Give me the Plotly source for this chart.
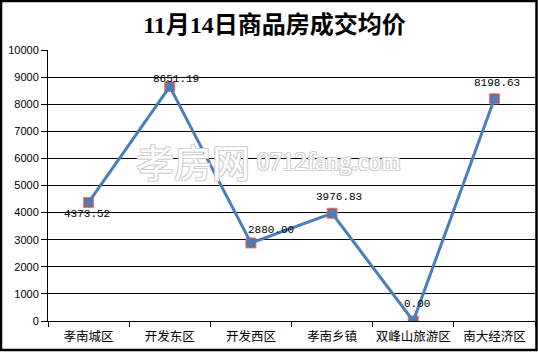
import plotly.graph_objects as go

categories = ["孝南城区", "开发东区", "开发西区", "孝南乡镇", "双峰山旅游区", "南大经济区"]
prices = [4373.52, 8651.19, 2880.00, 3976.83, 0.00, 8198.63]
label_texts = ["4373.52", "8651.19", "2880.00", "3976.83", "0.00", "8198.63"]
y_ticks = list(range(0, 10001, 1000))
y_tick_text = [str(v) for v in y_ticks]

# label offsets (style only, in pixels: dx, dy up)
label_dx = [-2, 6, 20, 7, 4, 3]
label_dy = [-12, 8, 13, 16, 17, 16]

W, H = 538, 353
L, R, T, B = 48, 3, 50, 32
pw, ph = W - L - R, H - T - B
def px(x):
    return (x - L) / pw
def py(y):
    return (H - B - y) / ph

fig = go.Figure()
fig.add_trace(go.Scatter(
    x=categories, y=prices, mode="markers",
    marker=dict(symbol="square", size=10, color="#c0504d",
                line=dict(color="#d9807d", width=1)),
    hoverinfo="skip", showlegend=False))
fig.add_trace(go.Scatter(
    x=categories, y=prices, mode="lines+markers",
    line=dict(color="#4a7ebb", width=3),
    marker=dict(symbol="diamond", size=8, color="#4a7ebb"),
    showlegend=False))

for c, v, t, dx, dy in zip(categories, prices, label_texts, label_dx, label_dy):
    fig.add_annotation(x=c, y=v, text=t, showarrow=False, xshift=dx, yshift=dy,
                       font=dict(family="Liberation Mono, DejaVu Sans Mono", size=11, color="black"))

# watermark
wm_shadow = "1px 1px 0 #d0d0d0, -1px -1px 0 #d0d0d0, 1px -1px 0 #d0d0d0, -1px 1px 0 #d0d0d0"
fig.add_annotation(xref="paper", yref="paper", x=px(252), y=py(160), xanchor="right",
                   text="孝房网", showarrow=False,
                   font=dict(family="Noto Sans CJK SC", size=38, color="white", shadow=wm_shadow))
fig.add_annotation(xref="paper", yref="paper", x=px(255), y=py(161), xanchor="left",
                   text="0712fang.com", showarrow=False,
                   font=dict(family="Liberation Serif, DejaVu Serif", size=25, color="white", shadow=wm_shadow))

fig.add_shape(type="rect", xref="paper", yref="paper",
              x0=px(1), x1=px(536.5), y0=py(1), y1=py(350),
              line=dict(color="black", width=2.5), fillcolor="rgba(0,0,0,0)", layer="above")

fig.update_layout(
    width=W, height=H,
    margin=dict(l=L, r=R, t=T, b=B, autoexpand=False),
    paper_bgcolor="white", plot_bgcolor="white",
    title=dict(text="<b>11月14日商品房成交均价</b>", x=274.5 / W, xanchor="center",
               y=1 - 25 / H, yanchor="middle",
               font=dict(family="Liberation Serif, Noto Sans CJK SC", size=24, color="black")),
    xaxis=dict(type="category", showline=True, linecolor="black", linewidth=1, color="black",
               ticks="outside", tickson="boundaries", ticklen=5, tickcolor="black",
               showgrid=False, range=[-0.5, 5.5], tickangle=0, automargin=False,
               ticklabelstandoff=4,
               tickfont=dict(family="Noto Sans CJK SC", size=12.5, color="black")),
    yaxis=dict(range=[0, 10000], tickvals=y_ticks, ticktext=y_tick_text, showline=True,
               linecolor="black", color="black", automargin=False,
               linewidth=1, ticks="outside", ticklen=6, tickcolor="black",
               showgrid=True, gridcolor="black", gridwidth=1, zeroline=False,
               tickfont=dict(family="Liberation Sans, Arial", size=11, color="black")),
    font=dict(family="Noto Sans CJK SC", color="black"),
)

fig.write_html("out.html")
